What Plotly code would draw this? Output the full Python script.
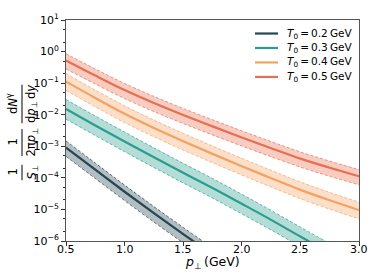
import plotly.graph_objects as go

# Data
pT = [0.5, 0.75, 1.0, 1.25, 1.5, 1.75, 2.0, 2.25, 2.5, 2.75, 3.0]

labels = ["<i>T</i><sub>0</sub>\u2009=\u20090.2\u2009GeV", "<i>T</i><sub>0</sub>\u2009=\u20090.3\u2009GeV",
          "<i>T</i><sub>0</sub>\u2009=\u20090.4\u2009GeV", "<i>T</i><sub>0</sub>\u2009=\u20090.5\u2009GeV"]

t02_mid = [9.12e-4, 1.82e-4, 3.63e-5, 7.59e-6, 1.66e-6, 3.72e-7, 8.51e-8, 2.0e-8, 4.68e-9, 1.12e-9, 2.69e-10]
t02_hi = [1.48e-3, 2.95e-4, 5.89e-5, 1.23e-5, 2.69e-6, 6.03e-7, 1.38e-7, 3.24e-8, 7.59e-9, 1.82e-9, 4.37e-10]
t02_lo = [4.79e-4, 9.55e-5, 1.91e-5, 3.98e-6, 8.71e-7, 1.95e-7, 4.47e-8, 1.05e-8, 2.45e-9, 5.89e-10, 1.41e-10]

t03_mid = [0.0151, 0.00457, 0.00141, 4.47e-4, 1.45e-4, 4.79e-5, 1.51e-5, 4.68e-6, 1.38e-6, 4.17e-7, 1.26e-7]
t03_hi = [0.0302, 0.00912, 0.00282, 8.91e-4, 2.88e-4, 9.55e-5, 3.02e-5, 9.33e-6, 2.75e-6, 8.32e-7, 2.51e-7]
t03_lo = [0.00724, 0.00219, 6.76e-4, 2.14e-4, 6.92e-5, 2.29e-5, 7.24e-6, 2.24e-6, 6.61e-7, 2.0e-7, 6.03e-8]

t04_mid = [0.112, 0.0339, 0.0107, 0.00380, 0.00145, 5.75e-4, 2.34e-4, 9.77e-5, 4.17e-5, 1.95e-5, 9.55e-6]
t04_hi = [0.200, 0.0603, 0.0191, 0.00676, 0.00257, 0.00102, 4.17e-4, 1.74e-4, 7.41e-5, 3.47e-5, 1.70e-5]
t04_lo = [0.0589, 0.0178, 0.00562, 0.00200, 7.59e-4, 3.02e-4, 1.23e-4, 5.13e-5, 2.19e-5, 1.02e-5, 5.01e-6]

t05_mid = [0.525, 0.174, 0.0603, 0.0234, 0.00977, 0.00427, 0.00191, 8.71e-4, 4.07e-4, 2.09e-4, 1.12e-4]
t05_hi = [0.851, 0.282, 0.0977, 0.0380, 0.0158, 0.00692, 0.00309, 0.00141, 6.61e-4, 3.39e-4, 1.82e-4]
t05_lo = [0.282, 0.0933, 0.0324, 0.0126, 0.00525, 0.00229, 0.00102, 4.68e-4, 2.19e-4, 1.12e-4, 6.03e-5]

y_tickvals = [1e-6, 1e-5, 1e-4, 1e-3, 1e-2, 1e-1, 1e0, 1e1]
y_ticktext = ["10<sup>−6</sup>", "10<sup>−5</sup>", "10<sup>−4</sup>", "10<sup>−3</sup>",
              "10<sup>−2</sup>", "10<sup>−1</sup>", "10<sup>0</sup>", "10<sup>1</sup>"]
x_tickvals = [0.5, 1.0, 1.5, 2.0, 2.5, 3.0]
x_ticktext = ["0.5", "1.0", "1.5", "2.0", "2.5", "3.0"]

colors = ["#264653", "#2a9d8f", "#f4a261", "#e76f51"]
fills = ["rgba(38,70,83,0.35)", "rgba(42,157,143,0.35)", "rgba(244,162,97,0.35)", "rgba(231,111,81,0.35)"]

series = [(t02_lo, t02_hi, t02_mid), (t03_lo, t03_hi, t03_mid),
          (t04_lo, t04_hi, t04_mid), (t05_lo, t05_hi, t05_mid)]

fig = go.Figure()
for i, (lo, hi, mid) in enumerate(series):
    fig.add_trace(go.Scatter(x=pT, y=lo, mode="lines",
                             line=dict(color=colors[i], width=0.7, dash="3px,2px", shape="spline"),
                             showlegend=False, hoverinfo="skip"))
    fig.add_trace(go.Scatter(x=pT, y=hi, mode="lines",
                             line=dict(color=colors[i], width=0.7, dash="3px,2px", shape="spline"),
                             fill="tonexty", fillcolor=fills[i], showlegend=False, hoverinfo="skip"))
    fig.add_trace(go.Scatter(x=pT, y=mid, mode="lines", line=dict(color=colors[i], width=2.2, shape="spline"),
                             name=labels[i], showlegend=False))

W, H = 374, 280
L, R, T, B = 66, 15, 12, 39
pw, ph = W - L - R, H - T - B
X0, X1 = 0.5, 3.0

def px2paper(px, py):
    return (px - L) / pw, (H - B - py) / ph

font = "DejaVu Sans, sans-serif"
ann = []
shapes = []

# y-axis title built from three rotated fractions
pieces = [
    ("1", "<i>S</i><sub>⊥</sub>", 170, 8),
    ("1", "2π<i>p</i><sub>⊥</sub>", 139, 14),
    ("d<i>N</i><sup>γ</sup>", "d<i>p</i><sub>⊥</sub>\u2009d<i>y</i>", 99, 20),
]
for num, den, yc, half in pieces:
    xn, yn = px2paper(13, yc)
    xd, yd = px2paper(32, yc)
    ann.append(dict(text=num, x=xn, y=yn, xref="paper", yref="paper", showarrow=False, textangle=-90,
                    xanchor="center", yanchor="middle", font=dict(size=11.5, color="black", family=font)))
    ann.append(dict(text=den, x=xd, y=yd, xref="paper", yref="paper", showarrow=False, textangle=-90,
                    xanchor="center", yanchor="middle", font=dict(size=11.5, color="black", family=font)))
    x0, y0 = px2paper(22, yc - half)
    x1, y1 = px2paper(22, yc + half)
    shapes.append(dict(type="line", xref="paper", yref="paper", x0=x0, x1=x1, y0=y0, y1=y1,
                       line=dict(color="black", width=1)))

# x tick labels placed just under the axis
_, ytl = px2paper(0, 250)
for v, t in zip(x_tickvals, x_ticktext):
    ann.append(dict(text=t, x=(v - X0) / (X1 - X0), y=ytl, xref="paper", yref="paper", showarrow=False,
                    xanchor="center", yanchor="middle", font=dict(size=11, color="black", family=font)))

# x-axis title
xt, yt = px2paper(212, 263)
ann.append(dict(text="<i>p</i><sub>⊥</sub>\u2009(GeV)", x=xt, y=yt, xref="paper", yref="paper", showarrow=False,
                xanchor="center", yanchor="middle", font=dict(size=12.5, color="black", family=font)))

# legend drawn manually
leg_y = [26, 41, 56, 71]
for i in range(4):
    x0, y0 = px2paper(255, leg_y[i])
    x1, _ = px2paper(278, leg_y[i])
    shapes.append(dict(type="line", xref="paper", yref="paper", x0=x0, x1=x1, y0=y0, y1=y0,
                       line=dict(color=colors[i], width=2.2)))
    xt, yt = px2paper(285, leg_y[i])
    ann.append(dict(text=labels[i], x=xt, y=yt, xref="paper", yref="paper", showarrow=False,
                    xanchor="left", yanchor="middle", font=dict(size=10.5, color="black", family=font)))

fig.update_layout(
    width=W, height=H,
    margin=dict(l=L, r=R, t=T, b=B),
    paper_bgcolor="white", plot_bgcolor="white",
    font=dict(family=font, size=11, color="black"),
    showlegend=False,
    annotations=ann, shapes=shapes,
)
fig.update_xaxes(range=[X0, X1], tickvals=x_tickvals, showticklabels=False,
                 ticks="outside", ticklen=4, tickcolor="#333", showline=True, linecolor="#555",
                 mirror=True, showgrid=False, zeroline=False)
fig.update_yaxes(type="log", range=[-6, 1], tickvals=y_tickvals, ticktext=y_ticktext,
                 ticks="outside", ticklen=4, tickcolor="#333", showline=True, linecolor="#555",
                 mirror=True, showgrid=False, zeroline=False,
                 minor=dict(ticks="outside", ticklen=2, tickcolor="#333", showgrid=False),
                 tickfont=dict(size=11))

fig.write_html("out.html", config={"displayModeBar": False},
               post_script="document.body.style.margin='0';document.body.style.overflow='hidden';")
